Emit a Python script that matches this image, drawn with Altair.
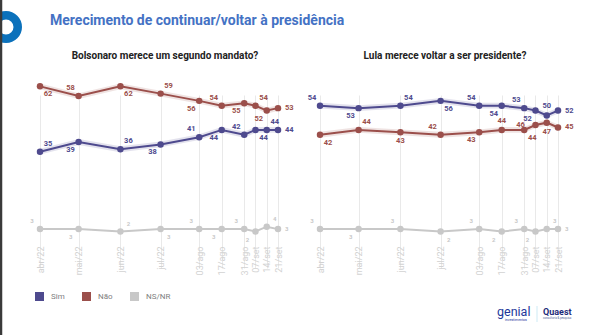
import altair as alt
import pandas as pd

# ---------------- data ----------------
labels = ["abr/22", "mai/22", "jun/22", "jul/22", "03/ago", "17/ago", "31/ago", "07/set", "14/set", "21/set"]
dates = ["2022-04-26", "2022-05-20", "2022-06-15", "2022-07-10", "2022-08-03",
         "2022-08-17", "2022-08-31", "2022-09-07", "2022-09-14", "2022-09-21"]

bolsonaro_sim = [35, 39, 36, 38, 41, 44, 42, 44, 44, 44]
bolsonaro_nao = [62, 58, 62, 59, 56, 54, 55, 54, 52, 53]
bolsonaro_nsnr = [3, 3, 2, 3, 3, 3, 3, 2, 4, 3]

lula_sim = [54, 53, 54, 56, 54, 54, 53, 52, 50, 52]
lula_nao = [42, 44, 43, 42, 43, 44, 44, 46, 47, 45]
lula_nsnr = [3, 3, 3, 2, 3, 2, 3, 2, 3, 3]

series_names = ["Sim", "Não", "NS/NR"]
series_colors = ["#4E4A8E", "#9B4F4B", "#C8C8C8"]

title_text = "Merecimento de continuar/voltar à presidência"
left_title = "Bolsonaro merece um segundo mandato?"
right_title = "Lula merece voltar a ser presidente?"

# ---------------- label placement (style only) ----------------
place_bolsonaro = {
    "Sim":   ["ar", "bl", "ar", "bl", "al", "bl", "al", "br", "ar", "r"],
    "Não":   ["br", "al", "br", "ar", "bl", "al", "bl", "ar", "bl", "r"],
    "NS/NR": ["al", "bl", "ar", "br", "al", "bl", "al", "bl", "ar", "r"],
}
place_lula = {
    "Sim":   ["al", "bl", "ar", "br", "al", "bl", "al", "bl", "a", "r"],
    "Não":   ["br", "ar", "b", "al", "bl", "a", "br", "l", "b", "r"],
    "NS/NR": ["al", "bl", "al", "br", "al", "bl", "al", "bl", "ar", "r"],
}
offsets = {"ar": (8, -8), "al": (-8, -8), "br": (8, 8), "bl": (-8, 8),
           "a": (0, -9), "b": (0, 9), "l": (-15, 0)}

FONT = "Roboto"


def ts(d):
    return int(pd.Timestamp(d, tz="UTC").timestamp() * 1000)


def dt(d):
    t = pd.Timestamp(d)
    return alt.DateTime(year=t.year, month=t.month, date=t.day, utc=True)


def panel_df(sim, nao, ns, place):
    rows = []
    for name, vals in zip(series_names, [sim, nao, ns]):
        for i, v in enumerate(vals):
            rows.append(dict(date=dates[i], label=labels[i], series=name, value=v,
                             lo=v - 1.2, hi=v + 1.2, pos=place[name][i]))
    return pd.DataFrame(rows)


label_expr = "[" + ",".join("'%s'" % l for l in labels) + "][indexof([" + \
    ",".join(str(ts(d)) for d in dates) + "], time(datum.value))]"

y_scale = alt.Scale(domain=[-1.5, 70], range=[240, 67])
color_scale = alt.Scale(domain=series_names, range=series_colors)


def panel(df, x_range):
    x_axis = alt.Axis(values=[dt(d) for d in dates], labelExpr=label_expr, labelAngle=270,
                      labelAlign="right", labelBaseline="middle", labelPadding=6,
                      labelColor="#D2D2D2", labelFontSize=9, labelFont=FONT,
                      labelFlush=False, labelOverlap=False, ticks=False, domain=False,
                      grid=True, gridColor="#E9E9E9", gridWidth=1, offset=-95,
                      orient="bottom", title=None)
    xs = alt.X("date:T", scale=alt.Scale(domain=[dt(dates[0]), dt(dates[-1])], range=x_range),
               axis=x_axis)
    ys = alt.Y("value:Q", scale=y_scale, axis=None)
    col = alt.Color("series:N", scale=color_scale, legend=None)
    base = alt.Chart(df)

    band = base.transform_filter("datum.series != 'NS/NR'").mark_area(opacity=0.16).encode(
        x=xs, y=alt.Y("lo:Q", scale=y_scale, axis=None), y2="hi:Q", color=col)
    line = base.mark_line(strokeWidth=2).encode(x=xs, y=ys, color=col)
    pts = base.mark_point(filled=True, size=42, opacity=1).encode(x=xs, y=ys, color=col)

    layers = [band, line, pts]
    size = alt.condition("datum.series == 'NS/NR'", alt.value(6), alt.value(7.5))
    for pos, (ox, oy) in offsets.items():
        layers.append(
            base.transform_filter("datum.pos == '%s'" % pos)
            .mark_text(font=FONT, fontWeight="bold", dx=ox, dy=oy)
            .encode(x=xs, y=ys, text="value:Q", color=col, size=size))
    layers.append(
        base.transform_filter("datum.pos == 'r'")
        .mark_text(font=FONT, fontWeight="bold", align="left", dx=7, dy=0)
        .encode(x=xs, y=ys, text="value:Q", color=col, size=size))
    return alt.layer(*layers)


left = panel(panel_df(bolsonaro_sim, bolsonaro_nao, bolsonaro_nsnr, place_bolsonaro), [40, 278])
right = panel(panel_df(lula_sim, lula_nao, lula_nsnr, place_lula), [320, 558])

# legend built from its own fill channel so nothing else merges into it
legend_layer = alt.Chart(pd.DataFrame({"series": series_names})).transform_filter(
    "false").mark_point(filled=True, shape="square", opacity=1).encode(
    fill=alt.Fill("series:N", scale=color_scale, legend=alt.Legend(
        orient="none", legendX=35, legendY=292, direction="horizontal", title=None,
        symbolType="square", symbolSize=81, symbolStrokeWidth=0, symbolOpacity=1,
        labelFontSize=8, labelColor="#808080", labelFont=FONT,
        columnPadding=17, labelOffset=7)))

one = pd.DataFrame({"t": [""]})

ring = alt.Chart(one).mark_point(shape="circle", filled=False, size=552, strokeWidth=8.5,
                                 color="#0B71BB", opacity=1).encode(
    x=alt.value(6), y=alt.value(27))
strip = alt.Chart(one).mark_rule(color="#3A3A3A", strokeWidth=2.5).encode(
    x=alt.value(1), y=alt.value(0), y2=alt.value(335))

title = alt.Chart(pd.DataFrame({"t": [title_text]})).mark_text(
    font=FONT, fontSize=14, fontWeight="bold", color="#4472C4", align="left",
    baseline="middle").encode(x=alt.value(50), y=alt.value(21), text="t:N")
sub_l = alt.Chart(pd.DataFrame({"t": [left_title]})).mark_text(
    font=FONT, fontSize=10, fontWeight="bold", color="#222222", align="center",
    baseline="middle").encode(x=alt.value(165), y=alt.value(56), text="t:N")
sub_r = alt.Chart(pd.DataFrame({"t": [right_title]})).mark_text(
    font=FONT, fontSize=10, fontWeight="bold", color="#222222", align="center",
    baseline="middle").encode(x=alt.value(445), y=alt.value(56), text="t:N")

genial = alt.Chart(pd.DataFrame({"t": ["genial"]})).mark_text(
    font=FONT, fontSize=12.5, color="#23379A", align="left", baseline="middle").encode(
    x=alt.value(497), y=alt.value(312), text="t:N")
genial_sub = alt.Chart(pd.DataFrame({"t": ["investimentos"]})).mark_text(
    font=FONT, fontSize=3.5, color="#23379A", align="left", baseline="middle").encode(
    x=alt.value(505), y=alt.value(320), text="t:N")
sep = alt.Chart(one).mark_rule(color="#CDEAF5", strokeWidth=1).encode(
    x=alt.value(537), y=alt.value(306), y2=alt.value(322))
quaest = alt.Chart(pd.DataFrame({"t": ["Quaest"]})).mark_text(
    font=FONT, fontSize=9, fontWeight="bold", color="#1E2C7A", align="left",
    baseline="middle").encode(x=alt.value(543), y=alt.value(311.5), text="t:N")
quaest_sub = alt.Chart(pd.DataFrame({"t": ["consultoria & pesquisa"]})).mark_text(
    font=FONT, fontSize=2.8, color="#5A6AA0", align="left", baseline="middle").encode(
    x=alt.value(543), y=alt.value(318), text="t:N")

chart = alt.layer(
    legend_layer, ring, strip, title, sub_l, sub_r, genial, genial_sub, sep, quaest, quaest_sub,
    left, right
).resolve_scale(x="independent").resolve_axis(x="independent").properties(
    width=605, height=335, padding=0,
    autosize=alt.AutoSizeParams(type="none"), background="white"
).configure_view(strokeWidth=0)

chart.save("out.html", embed_options={"renderer": "svg", "actions": False})
